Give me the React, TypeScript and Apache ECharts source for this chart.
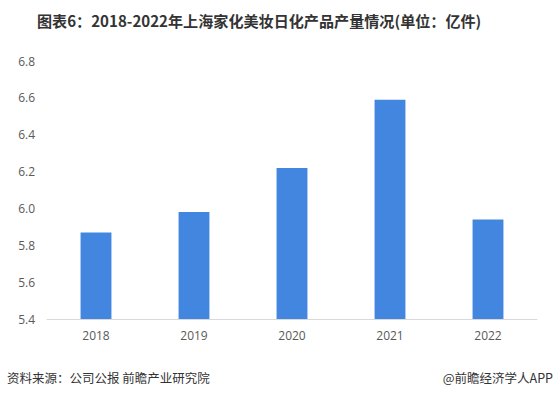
import React, { useEffect, useRef } from "react";
import * as echarts from "echarts";

const categories = ["2018", "2019", "2020", "2021", "2022"];
const values = [5.87, 5.98, 6.22, 6.59, 5.94];
const yTicks = { min: 5.4, max: 6.8, interval: 0.2 };
const titleText = "图表6：2018-2022年上海家化美妆日化产品产量情况(单位：亿件)";
const sourceText = "资料来源：公司公报 前瞻产业研究院";
const creditText = "@前瞻经济学人APP";

export default function App() {
  const ref = useRef<HTMLDivElement>(null);
  useEffect(() => {
    document.body.style.margin = "0";
    if (!ref.current) return;
    const chart = echarts.init(ref.current, null, { renderer: "svg" });
    chart.setOption({
      animation: false,
      backgroundColor: "#ffffff",
      title: {
        text: titleText,
        left: 32,
        top: 7,
        textStyle: {
          fontFamily: "'Noto Sans CJK SC', sans-serif",
          fontSize: 15.1,
          fontWeight: "bold",
          color: "#333333",
        },
      },
      grid: { left: 47, right: 23, top: 61, bottom: 80 },
      xAxis: {
        type: "category",
        data: categories,
        axisLine: { lineStyle: { color: "#d9d9d9", width: 1 } },
        axisTick: { show: false },
        axisLabel: {
          color: "#595959",
          fontSize: 12,
          margin: 10,
          fontFamily: "'Open Sans', sans-serif",
        },
      },
      yAxis: {
        type: "value",
        min: yTicks.min,
        max: yTicks.max,
        interval: yTicks.interval,
        axisLine: { show: false },
        axisTick: { show: false },
        splitLine: { show: false },
        axisLabel: {
          color: "#595959",
          fontSize: 12,
          margin: 12,
          fontFamily: "'Open Sans', sans-serif",
          formatter: (v: number) => v.toFixed(1),
        },
      },
      series: [
        {
          type: "bar",
          data: values,
          barWidth: "31.5%",
          itemStyle: { color: "#4286e0" },
        },
      ],
      graphic: [
        {
          type: "text",
          left: 7,
          top: 371,
          style: {
            text: sourceText,
            fill: "#333333",
            font: "12.5px 'Noto Sans CJK SC'",
          },
        },
        {
          type: "text",
          right: 7,
          top: 371,
          style: {
            text: creditText,
            fill: "#333333",
            font: "12.5px 'Noto Sans CJK SC'",
          },
        },
      ],
    });
    return () => chart.dispose();
  }, []);
  return <div ref={ref} style={{ width: 560, height: 399 }} />;
}
